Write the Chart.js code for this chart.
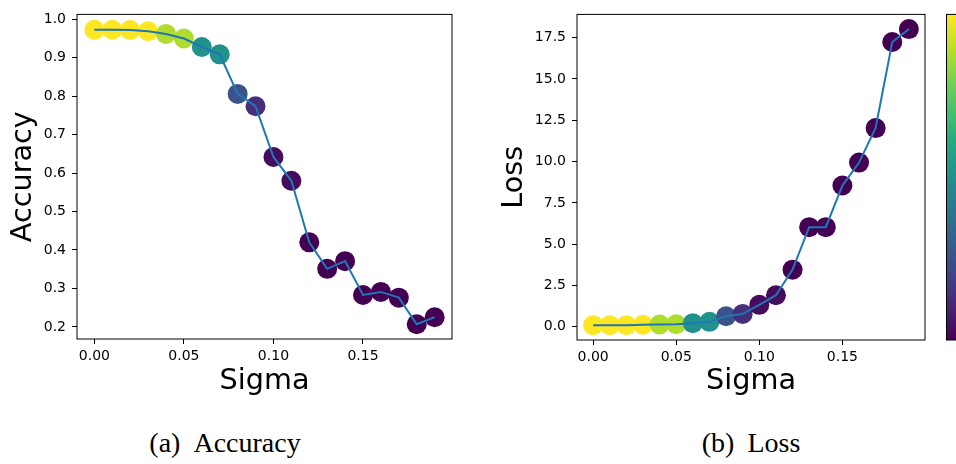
<!DOCTYPE html>
<html>
<head>
<meta charset="utf-8">
<script src="https://cdn.jsdelivr.net/npm/chart.js@4"></script>
<style>
  body { margin: 0; background: #fff; }
  #wrap { position: relative; width: 956px; height: 464px; overflow: hidden; background: #fff; }
  .panel { position: absolute; top: 0; }
  .cap { position: absolute; top: 429px; font-family: "Liberation Serif", serif; font-size: 28px; line-height: 28px; color: #000; white-space: nowrap; transform: translateX(-50%); }
  .cap span { margin-left: 13px; }
</style>
</head>
<body>
<div id="wrap">
  <canvas id="accChart" class="panel" style="left:0" width="470" height="410"></canvas>
  <canvas id="lossChart" class="panel" style="left:480px" width="476" height="410"></canvas>
  <div class="cap" style="left:225px">(a)<span>Accuracy</span></div>
  <div class="cap" style="left:751px">(b)<span>Loss</span></div>
</div>
<script>
// values
const sigma = [0.00, 0.01, 0.02, 0.03, 0.04, 0.05, 0.06, 0.07, 0.08, 0.09,
               0.10, 0.11, 0.12, 0.13, 0.14, 0.15, 0.16, 0.17, 0.18, 0.19];
const accuracy = [0.973, 0.973, 0.972, 0.969, 0.962, 0.950, 0.928, 0.909, 0.806, 0.774,
                  0.642, 0.580, 0.420, 0.351, 0.371, 0.283, 0.291, 0.276, 0.207, 0.225];
const loss = [0.10, 0.10, 0.10, 0.12, 0.14, 0.16, 0.22, 0.30, 0.64, 0.78,
              1.33, 1.91, 3.46, 6.03, 6.03, 8.55, 9.94, 12.03, 17.24, 18.02];
// colour value of each marker (0 = bottom of the colour bar, 1 = top)
const shade = [1.0, 1.0, 1.0, 1.0, 0.88, 0.88, 0.5, 0.5, 0.25, 0.13,
               0.03, 0.03, 0, 0, 0, 0, 0, 0, 0, 0];

const sigmaTicks = [0, 0.05, 0.10, 0.15];
const accTicks = [0.2, 0.3, 0.4, 0.5, 0.6, 0.7, 0.8, 0.9, 1.0];
const lossTicks = [0, 2.5, 5, 7.5, 10, 12.5, 15, 17.5];

const viridisStops = ["#440154", "#482475", "#414487", "#355f8d", "#2a788e", "#21918c",
                      "#22a884", "#44bf70", "#7ad151", "#bddf26", "#fde725"];

function hexRgb(h) {
    return [1, 3, 5].map(i => parseInt(h.slice(i, i + 2), 16));
}

function viridis(t) {
    const p = Math.max(0, Math.min(1, t)) * (viridisStops.length - 1);
    const i = Math.min(Math.floor(p), viridisStops.length - 2);
    const f = p - i;
    const a = hexRgb(viridisStops[i]);
    const b = hexRgb(viridisStops[i + 1]);
    const c = a.map((v, k) => Math.round(v + (b[k] - v) * f));
    return "rgb(" + c.join(",") + ")";
}

const FONT = "'DejaVu Sans', sans-serif";

const frame = {
    id: "frame",
    afterDatasetsDraw(chart) {
        const a = chart.chartArea;
        const ctx = chart.ctx;
        ctx.save();
        ctx.strokeStyle = "#000";
        ctx.lineWidth = 1;
        ctx.strokeRect(a.left, a.top, a.right - a.left, a.bottom - a.top);
        ctx.restore();
    }
};

const colorBar = {
    id: "colorBar",
    afterDraw(chart) {
        const a = chart.chartArea;
        const ctx = chart.ctx;
        const x0 = a.right + 21.5;
        const grad = ctx.createLinearGradient(0, a.bottom, 0, a.top);
        viridisStops.forEach((c, i) => grad.addColorStop(i / (viridisStops.length - 1), c));
        ctx.save();
        ctx.fillStyle = grad;
        ctx.fillRect(x0, a.top, 40, a.bottom - a.top);
        ctx.strokeStyle = "#000";
        ctx.lineWidth = 1;
        ctx.strokeRect(x0, a.top, 40, a.bottom - a.top);
        ctx.restore();
    }
};

function makeChart(id, values, yTicks, yMin, yMax, label, dims, plugins) {
    const pts = sigma.map((s, i) => ({ x: s, y: values[i] }));
    return new Chart(document.getElementById(id), {
        type: "scatter",
        data: {
            datasets: [
                {
                    data: pts,
                    showLine: true,
                    borderColor: "#1f77b4",
                    borderWidth: 2,
                    pointRadius: 0,
                    tension: 0,
                    clip: false,
                    order: 0
                },
                {
                    data: pts,
                    pointRadius: 10,
                    pointBorderWidth: 0,
                    pointBackgroundColor: shade.map(viridis),
                    clip: false,
                    order: 1
                }
            ]
        },
        options: {
            responsive: false,
            animation: false,
            layout: { padding: { top: dims.top, right: dims.right, left: 0, bottom: 0 } },
            plugins: { legend: { display: false }, tooltip: { enabled: false } },
            scales: {
                x: {
                    type: "linear",
                    min: -0.0097,
                    max: 0.1997,
                    afterBuildTicks: s => { s.ticks = sigmaTicks.map(v => ({ value: v })); },
                    afterFit: s => { s.height = dims.xh; },
                    grid: { drawOnChartArea: false, drawTicks: true, tickLength: 5, color: "#000" },
                    border: { display: false },
                    ticks: {
                        padding: 3.5,
                        color: "#000",
                        font: { family: FONT, size: 14 },
                        maxRotation: 0,
                        callback: v => v.toFixed(2)
                    },
                    title: {
                        display: true,
                        text: "Sigma",
                        color: "#000",
                        font: { family: FONT, size: 28.7 },
                        padding: { top: 0, bottom: dims.xtp }
                    }
                },
                y: {
                    type: "linear",
                    min: yMin,
                    max: yMax,
                    afterBuildTicks: s => { s.ticks = yTicks.map(v => ({ value: v })); },
                    afterFit: s => { s.width = dims.yw; },
                    grid: { drawOnChartArea: false, drawTicks: true, tickLength: 5, color: "#000" },
                    border: { display: false },
                    ticks: {
                        padding: 6,
                        color: "#000",
                        font: { family: FONT, size: 14 },
                        callback: v => v.toFixed(1)
                    },
                    title: {
                        display: true,
                        text: label,
                        color: "#000",
                        font: { family: FONT, size: 28.7 },
                        padding: { top: dims.ytp, bottom: 0 }
                    }
                }
            }
        },
        plugins: [frame].concat(plugins)
    });
}

makeChart("accChart", accuracy, accTicks, 0.1685, 1.0128, "Accuracy",
    { top: 10, right: 18, xh: 71, yw: 77, xtp: 11.7, ytp: 6 }, []);
makeChart("lossChart", loss, lossTicks, -0.80, 18.91, "Loss",
    { top: 13, right: 31, xh: 70, yw: 97, xtp: 11, ytp: 17 }, [colorBar]);
</script>
</body>
</html>
